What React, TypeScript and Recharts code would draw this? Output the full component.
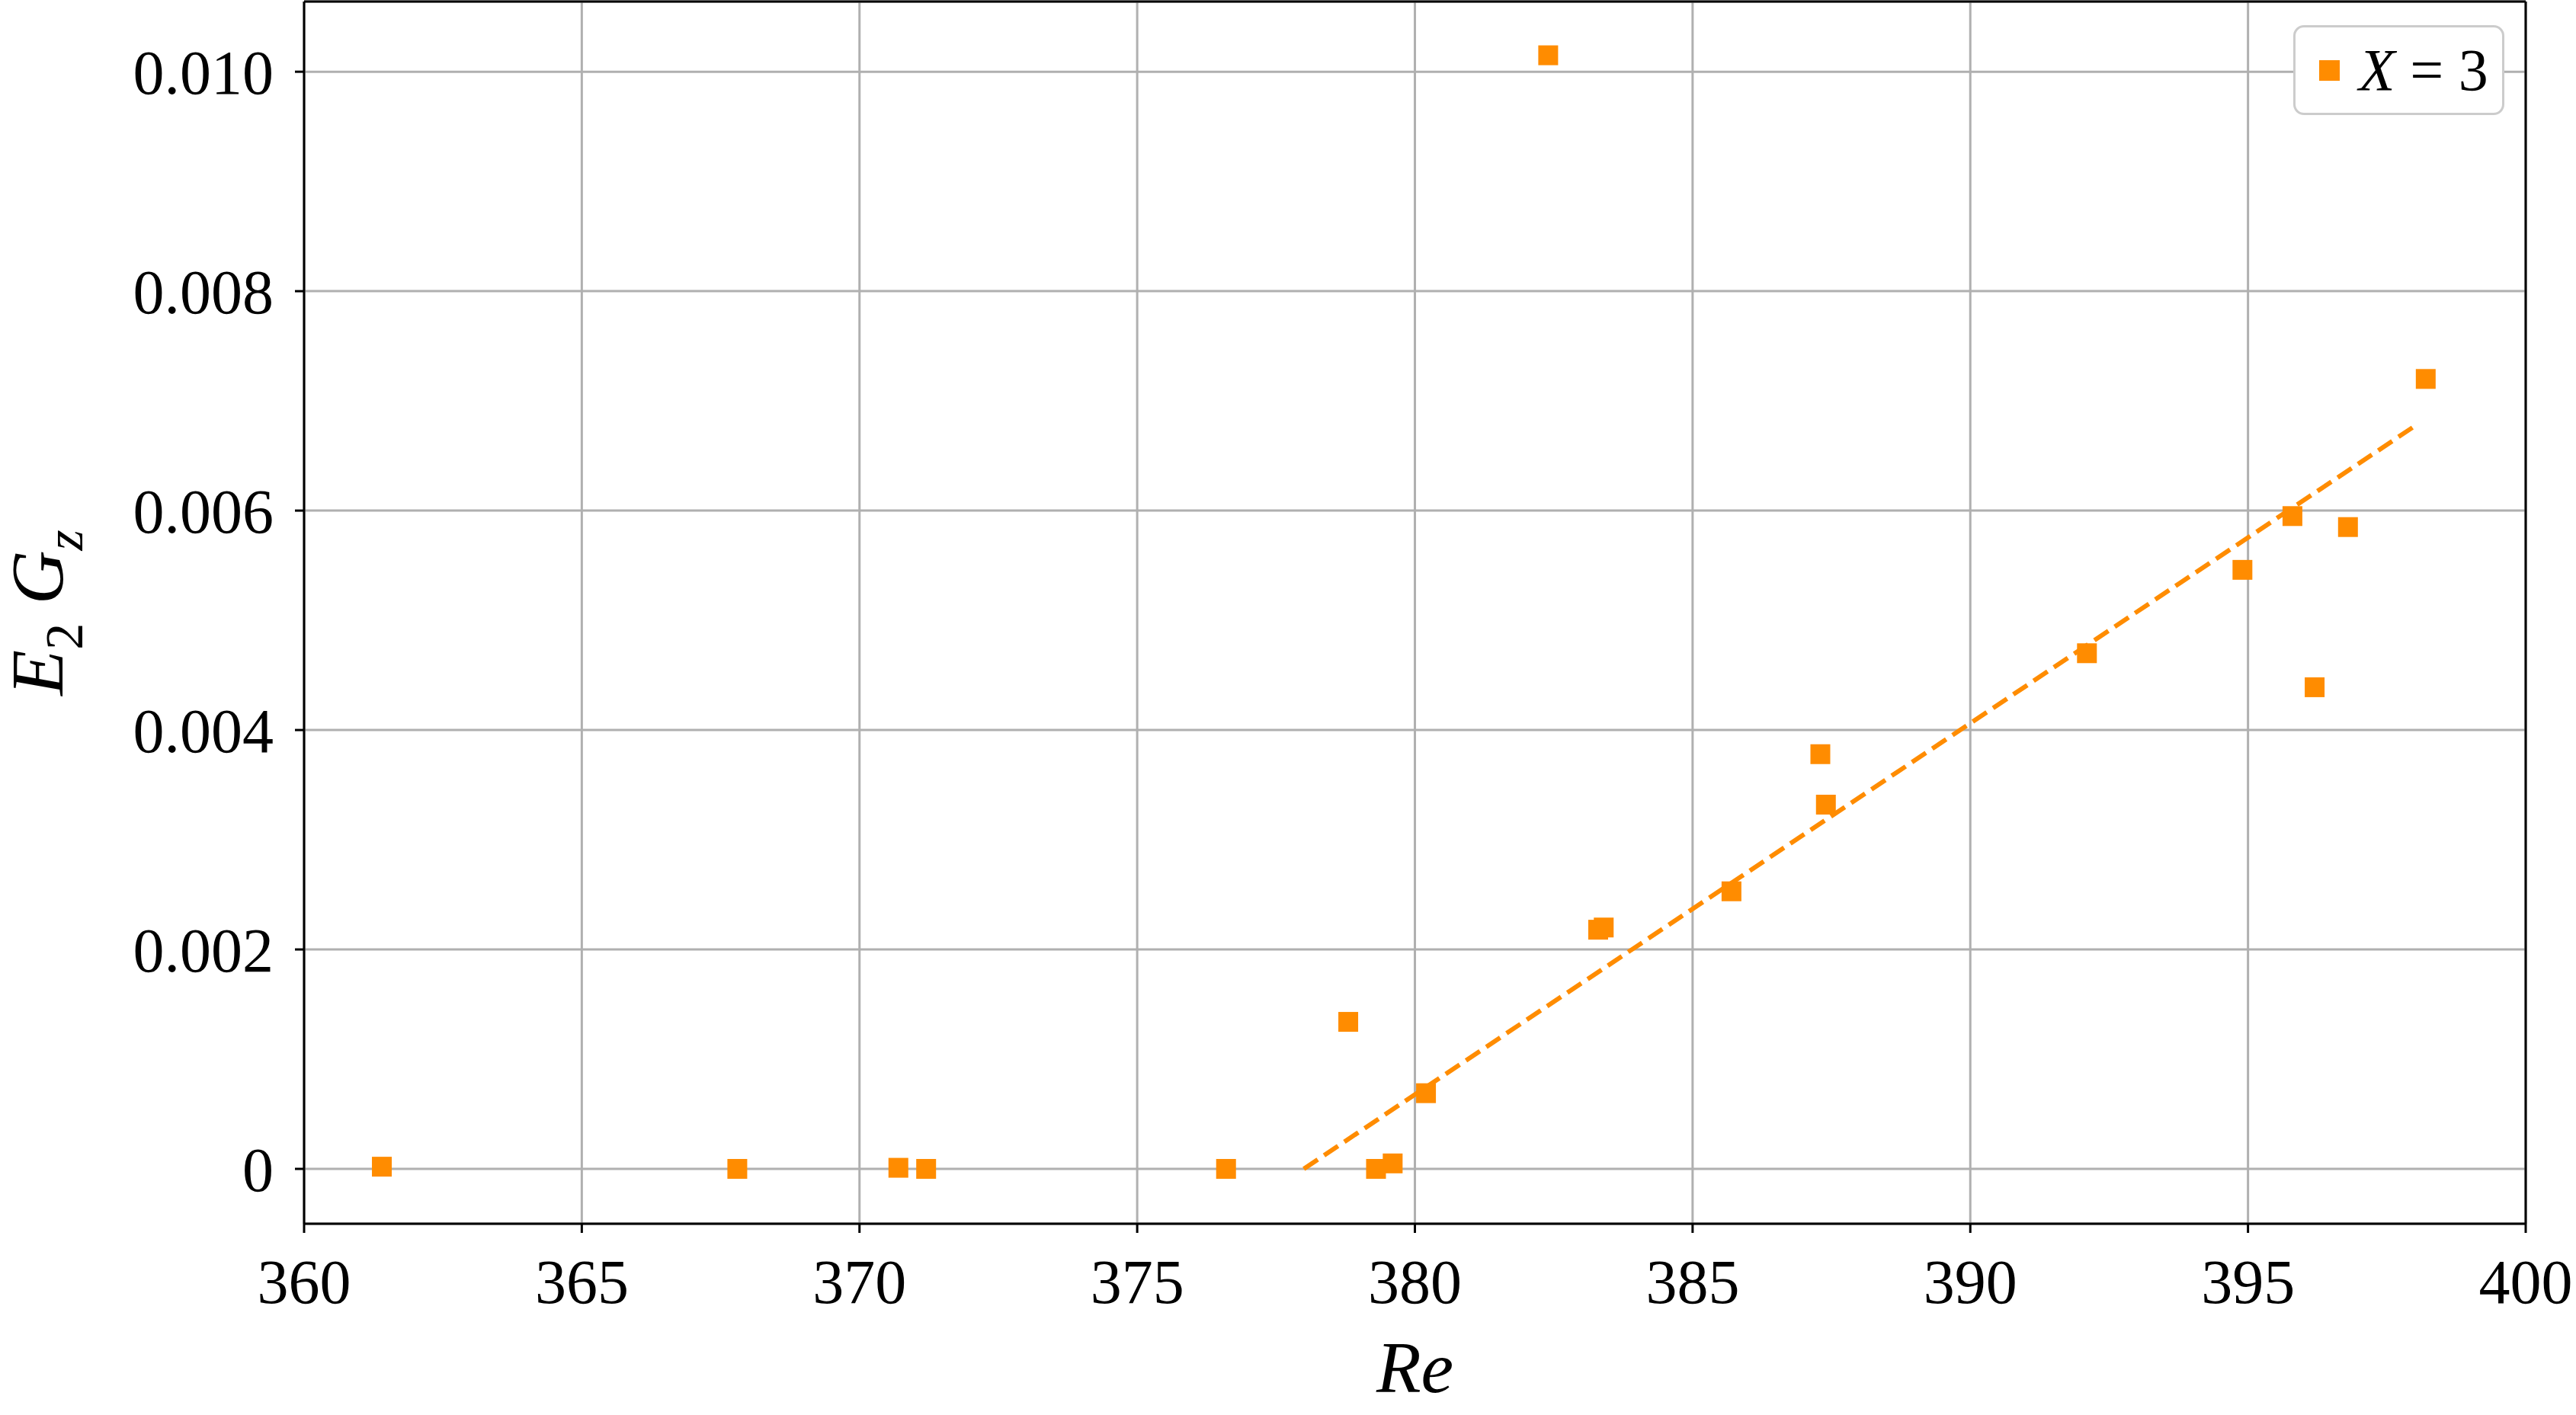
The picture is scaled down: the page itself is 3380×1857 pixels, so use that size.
import React from 'react';
import {
    ScatterChart,
    Scatter,
    XAxis,
    YAxis,
    CartesianGrid,
    Legend,
    Label,
    ReferenceLine,
} from 'recharts';

// measured points (Re, E2*Gz) for X = 3
const RE_VALUES = [
    361.4, 367.8, 370.7, 371.2, 376.6, 378.8, 379.3, 379.6, 380.2, 382.4, 383.3,
    383.4, 385.7, 387.3, 387.4, 392.1, 394.9, 395.8, 396.2, 396.8, 398.2,
];
const E2GZ_VALUES = [
    0.00002, 0, 0.00001, 0, 0, 0.00134, 0, 0.00005, 0.00069, 0.01015, 0.00218,
    0.0022, 0.00253, 0.00378, 0.00332, 0.0047, 0.00546, 0.00595, 0.00439, 0.00585, 0.0072,
];

// linear fit drawn as dashed line
const FIT_RE = [378.0, 398.0];
const FIT_E2GZ = [0, 0.00677];

const X_TICKS = [360, 365, 370, 375, 380, 385, 390, 395, 400];
const Y_TICKS = [0, 0.002, 0.004, 0.006, 0.008, 0.01];
const X_DOMAIN = [360, 400];
const Y_DOMAIN = [-0.0005, 0.01064];

const ORANGE = '#ff8c00';
const FONT = '"Liberation Serif", "DejaVu Serif", serif';

const points = RE_VALUES.map((re, i) => ({ re, val: E2GZ_VALUES[i] }));
const fitPoints = FIT_RE.map((re, i) => ({ re, val: FIT_E2GZ[i] }));

const tickStyle = { fill: '#000', fontSize: 82, fontFamily: FONT };

function SquareMarker(props: any) {
    const { cx, cy } = props;
    if (cx == null || cy == null) return <g />;
    return <rect x={cx - 13} y={cy - 13} width={26} height={26} fill={ORANGE} />;
}

function LegendBox() {
    return (
        <div
            style={{
                boxSizing: 'border-box',
                width: 277,
                height: 118,
                border: '3px solid #cccccc',
                borderRadius: 14,
                background: '#fff',
                display: 'flex',
                alignItems: 'center',
                paddingLeft: 31,
                fontFamily: FONT,
                fontSize: 78,
                color: '#000',
            }}
        >
            <span style={{ width: 27, height: 27, background: ORANGE, display: 'inline-block', marginRight: 25 }} />
            <span style={{ lineHeight: 1, whiteSpace: 'pre' }}>
                <i>X</i> = 3
            </span>
        </div>
    );
}

function YTitle(props: any) {
    const vb = props.viewBox || {};
    const cy = (vb.y || 0) + (vb.height || 0) / 2;
    const x = 82;
    return (
        <text
            x={x}
            y={cy}
            transform={`rotate(-90, ${x}, ${cy})`}
            textAnchor="middle"
            fontFamily={FONT}
            fontSize={98}
            fill="#000"
        >
            <tspan fontStyle="italic">E</tspan>
            <tspan fontSize={70} dy={26}>2</tspan>
            <tspan dy={-26}>{' '}</tspan>
            <tspan fontStyle="italic">G</tspan>
            <tspan fontStyle="italic" fontSize={70} dy={26}>z</tspan>
        </text>
    );
}

function XTitle(props: any) {
    const vb = props.viewBox || {};
    const cx = (vb.x || 0) + (vb.width || 0) / 2;
    const y = (vb.y || 0) + 221;
    return (
        <text x={cx} y={y} textAnchor="middle" fontFamily={FONT} fontSize={96} fontStyle="italic" fill="#000">
            Re
        </text>
    );
}

export default function App() {
    return (
        <div style={{ position: 'absolute', left: 0, top: 0, width: 3380, height: 1857, background: '#fff' }}>
            <ScatterChart width={3380} height={1857} margin={{ top: 2, right: 66, bottom: 0, left: 0 }}>
                <CartesianGrid stroke="#b0b0b0" strokeWidth={3} />
                <XAxis
                    type="number"
                    dataKey="re"
                    domain={X_DOMAIN}
                    ticks={X_TICKS}
                    allowDataOverflow
                    height={251}
                    tick={tickStyle}
                    tickSize={12}
                    tickMargin={34}
                    axisLine={{ stroke: '#000', strokeWidth: 3 }}
                    tickLine={{ stroke: '#000', strokeWidth: 3 }}
                >
                    <Label content={<XTitle />} />
                </XAxis>
                <YAxis
                    type="number"
                    dataKey="val"
                    domain={Y_DOMAIN}
                    ticks={Y_TICKS}
                    allowDataOverflow
                    width={399}
                    tick={tickStyle}
                    tickSize={12}
                    tickMargin={28}
                    tickFormatter={(v: number) => (v === 0 ? '0' : v.toFixed(3))}
                    axisLine={{ stroke: '#000', strokeWidth: 3 }}
                    tickLine={{ stroke: '#000', strokeWidth: 3 }}
                >
                    <Label content={<YTitle />} />
                </YAxis>
                <ReferenceLine x={X_DOMAIN[1]} stroke="#000" strokeWidth={3} />
                <ReferenceLine y={Y_DOMAIN[1]} stroke="#000" strokeWidth={3} />
                <Scatter
                    name="fit"
                    data={fitPoints}
                    legendType="none"
                    line={{ stroke: ORANGE, strokeWidth: 6, strokeDasharray: '22 10' }}
                    shape={() => <g />}
                    isAnimationActive={false}
                />
                <Scatter
                    name="X = 3"
                    data={points}
                    fill={ORANGE}
                    shape={<SquareMarker />}
                    isAnimationActive={false}
                />
                <Legend
                    layout="vertical"
                    align="center"
                    verticalAlign="middle"
                    content={() => <LegendBox />}
                    wrapperStyle={{ position: 'absolute', left: 3009, top: 33, width: 277, height: 118 }}
                />
            </ScatterChart>
        </div>
    );
}
